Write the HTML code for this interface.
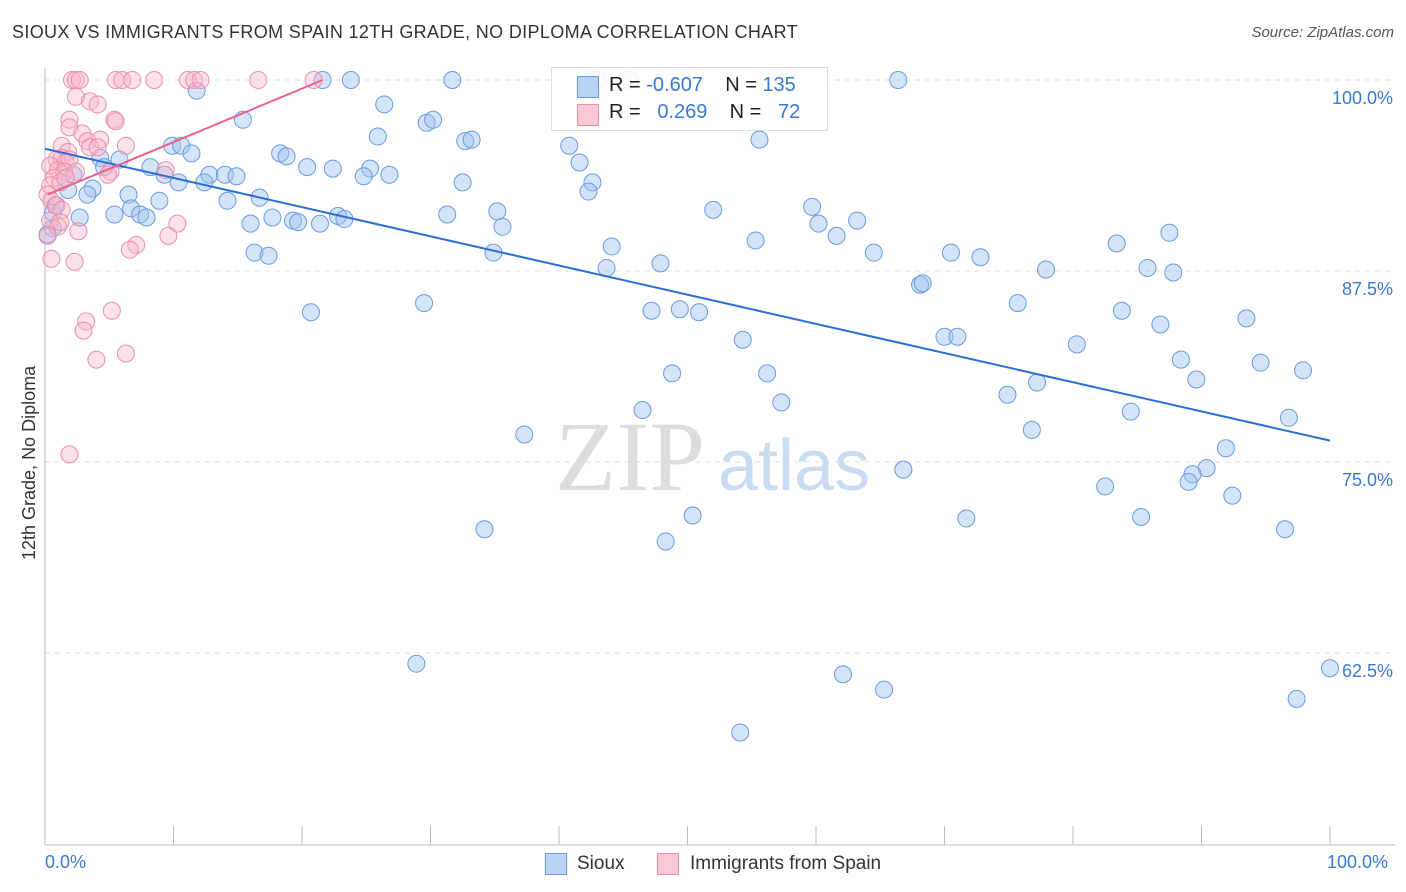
<!DOCTYPE html>
<html><head><meta charset="utf-8">
<style>
body{margin:0;background:#fff;font-family:"Liberation Sans",sans-serif;}
#wrap{position:relative;width:1406px;height:892px;overflow:hidden;}
.t{position:absolute;white-space:nowrap;}
</style></head>
<body>
<div id="wrap">
<div class="t" style="left:12px;top:22px;font-size:18px;letter-spacing:0.35px;color:#333;">SIOUX VS IMMIGRANTS FROM SPAIN 12TH GRADE, NO DIPLOMA CORRELATION CHART</div>
<div class="t" style="right:12px;top:24px;font-size:15px;color:#555;font-style:italic;">Source: ZipAtlas.com</div>
<svg id="svg" width="1406" height="892" style="position:absolute;left:0;top:0"></svg>
</div>
<script>
const xTicks=[0,10,20,30,40,50,60,70,80,90,100];
const yTicks=[100,87.5,75,62.5];
const yTickLabels=["100.0%","87.5%","75.0%","62.5%"];
const siouxX=[21.6,23.8,31.7,66.4,11.8,26.4,15.4,29.7,30.2,25.9,32.7,33.2,40.8,55.6,9.9,10.6,11.4,4.3,5.8,18.3,18.8,20.4,22.4,25.3,8.2,4.6,2.2,9.3,12.8,14.0,14.9,24.8,26.8,12.4,10.4,32.5,41.6,42.6,42.3,3.7,1.8,6.5,3.3,16.7,14.2,8.9,6.7,0.8,7.4,7.9,5.4,2.7,0.6,22.8,23.3,17.7,19.3,19.7,21.4,16.0,31.3,35.2,35.6,52.0,59.7,63.2,60.2,61.6,55.3,44.1,83.4,87.5,16.3,17.4,34.9,47.9,43.7,64.5,70.5,72.8,77.9,85.8,87.8,68.1,68.3,75.7,29.5,20.7,47.2,49.4,50.9,83.8,86.8,93.5,54.3,70.0,71.0,80.3,88.4,94.6,97.9,48.8,56.2,89.6,77.2,74.9,57.3,46.5,84.5,96.8,37.3,76.8,91.9,66.8,90.4,89.3,89.0,82.5,92.4,50.4,85.3,71.7,34.2,96.5,48.3,28.9,62.1,65.3,100,97.4,54.1,0.6,0.2,43.0,45.5];
const siouxY=[100,100,100,100,99.3,98.4,97.4,97.2,97.4,96.3,96.0,96.1,95.7,96.1,95.7,95.7,95.2,94.9,94.8,95.2,95.0,94.3,94.2,94.2,94.3,94.3,93.8,93.8,93.8,93.8,93.7,93.7,93.8,93.3,93.3,93.3,94.6,93.3,92.7,92.9,92.8,92.5,92.5,92.3,92.1,92.1,91.6,91.8,91.2,91.0,91.2,91.0,91.3,91.1,90.9,91.0,90.8,90.7,90.6,90.6,91.2,91.4,90.4,91.5,91.7,90.8,90.6,89.8,89.5,89.1,89.3,90.0,88.7,88.5,88.7,88.0,87.7,88.7,88.7,88.4,87.6,87.7,87.4,86.6,86.7,85.4,85.4,84.8,84.9,85.0,84.8,84.9,84.0,84.4,83.0,83.2,83.2,82.7,81.7,81.5,81.0,80.8,80.8,80.4,80.2,79.4,78.9,78.4,78.3,77.9,76.8,77.1,75.9,74.5,74.6,74.2,73.7,73.4,72.8,71.5,71.4,71.3,70.6,70.6,69.8,61.8,61.1,60.1,61.5,59.5,57.3,90.3,89.9,100,100];
const spainX=[2.1,2.4,2.7,5.5,6.0,6.8,8.5,11.1,11.6,12.1,16.6,20.9,2.4,3.5,4.1,5.4,5.5,1.9,1.9,2.9,3.3,4.3,1.3,1.8,3.5,4.1,6.3,0.9,1.3,1.6,1.9,0.4,1.0,1.5,2.4,0.7,0.4,1.2,1.6,5.1,4.9,0.2,0.5,0.9,1.3,0.4,1.0,1.2,0.2,2.6,9.4,10.3,9.6,7.1,6.6,0.5,2.3,5.2,3.2,3.0,6.3,4.0,1.9];
const spainY=[100,100,100,100,100,100,100,100,100,100,100,100,98.9,98.6,98.4,97.4,97.3,97.4,96.9,96.5,96.0,96.1,95.7,95.3,95.6,95.6,95.7,94.8,94.9,94.6,94.8,94.4,94.1,94.0,94.0,93.6,93.1,93.3,93.6,94.0,93.8,92.5,92.1,91.8,91.5,90.8,90.4,90.7,89.8,90.1,94.1,90.6,89.8,89.2,88.9,88.3,88.1,84.9,84.2,83.6,82.1,81.7,75.5];
const siouxTrendX=[0,100], siouxTrendY=[95.5,76.4];
const spainTrendX=[0.2,21.6], spainTrendY=[92.5,100];

const X0=45,X1=1330,Y100=80,PX_PER=15.28;
const sx=v=>X0+(X1-X0)*v/100;
const sy=v=>Y100+(100-v)*PX_PER;
const svg=document.getElementById('svg');
const NS='http://www.w3.org/2000/svg';
function mk(tag,attrs){const e=document.createElementNS(NS,tag);for(const k in attrs)e.setAttribute(k,attrs[k]);svg.appendChild(e);return e;}

yTicks.forEach((v,i)=>{
  const g=mk('line',{x1:X0,x2:1395,y1:sy(v),y2:sy(v),stroke:'#ddd','stroke-dasharray':'5,5'});
  
  
  const t=mk('text',{x:1393,y:sy(v)+24,'text-anchor':'end','font-size':18,fill:'#3a78d4','font-family':'Liberation Sans, sans-serif'});
  t.textContent=yTickLabels[i];
  
  
});
let a=mk('line',{x1:X0,x2:X0,y1:68,y2:845,stroke:'#bbb'});


a=mk('line',{x1:X0,x2:1395,y1:845,y2:845,stroke:'#bbb'});


xTicks.forEach(v=>{
  const l=mk('line',{x1:sx(v),x2:sx(v),y1:826,y2:845,stroke:'#bbb'});
  
  
});
let w=mk('text',{x:555,y:490,'font-size':100,fill:'#ddd','font-family':'Liberation Serif, serif'});
w.textContent='ZIP';


w=mk('text',{x:718,y:490,'font-size':72,fill:'#c9dcf2','font-family':'Liberation Sans, sans-serif'});
w.textContent='atlas';



siouxX.forEach((x,i)=>{
  const c=mk('circle',{cx:sx(x),cy:sy(siouxY[i]),r:8.5,fill:'rgba(160,196,240,0.45)',stroke:'#6a9ae0','stroke-width':1});
  
  
});
spainX.forEach((x,i)=>{
  const c=mk('circle',{cx:sx(x),cy:sy(spainY[i]),r:8.5,fill:'rgba(248,180,200,0.4)',stroke:'#ec8fab','stroke-width':1});
  
  
});
let tl=mk('line',{x1:sx(siouxTrendX[0]),y1:sy(siouxTrendY[0]),x2:sx(siouxTrendX[1]),y2:sy(siouxTrendY[1]),stroke:'#2a6fd6','stroke-width':2});


tl=mk('line',{x1:sx(spainTrendX[0]),y1:sy(spainTrendY[0]),x2:sx(spainTrendX[1]),y2:sy(spainTrendY[1]),stroke:'#e8628c','stroke-width':2});


</script>
<div class="t" style="left:0;top:0;">
<div class="t" style="left:19px;top:560px;transform:rotate(-90deg);transform-origin:0 0;font-size:18px;color:#333;">12th Grade, No Diploma</div>
<div class="t" style="left:45px;top:852px;font-size:18px;color:#3a78d4;">0.0%</div>
<div class="t" style="left:1327px;top:852px;font-size:18px;color:#3a78d4;">100.0%</div>
<div class="t" style="left:551px;top:67px;width:275px;height:62px;background:rgba(255,255,255,0.9);border:1px solid #ddd;">
 <div class="t" style="left:25px;top:8px;width:20px;height:20px;background:#b8d3f5;border:1px solid #6a9ae0;"></div>
 <div class="t" style="left:57px;top:6px;font-size:20px;color:#222;">R = <span style="color:#3a78d4">-0.607</span>&nbsp;&nbsp;&nbsp;&nbsp;N = <span style="color:#3a78d4">135</span></div>
 <div class="t" style="left:25px;top:36px;width:20px;height:20px;background:#fbc9d6;border:1px solid #ec8fab;"></div>
 <div class="t" style="left:57px;top:33px;font-size:20px;color:#222;">R = &nbsp;&nbsp;<span style="color:#3a78d4">0.269</span>&nbsp;&nbsp;&nbsp;&nbsp;N = &nbsp;&nbsp;<span style="color:#3a78d4">72</span></div>
</div>
<div class="t" style="left:545px;top:853px;width:20px;height:20px;background:#b8d3f5;border:1px solid #6a9ae0;"></div>
<div class="t" style="left:577px;top:853px;font-size:19px;color:#333;">Sioux</div>
<div class="t" style="left:657px;top:853px;width:20px;height:20px;background:#fbc9d6;border:1px solid #ec8fab;"></div>
<div class="t" style="left:690px;top:853px;font-size:19px;color:#333;">Immigrants from Spain</div>
</div>
</body></html>
